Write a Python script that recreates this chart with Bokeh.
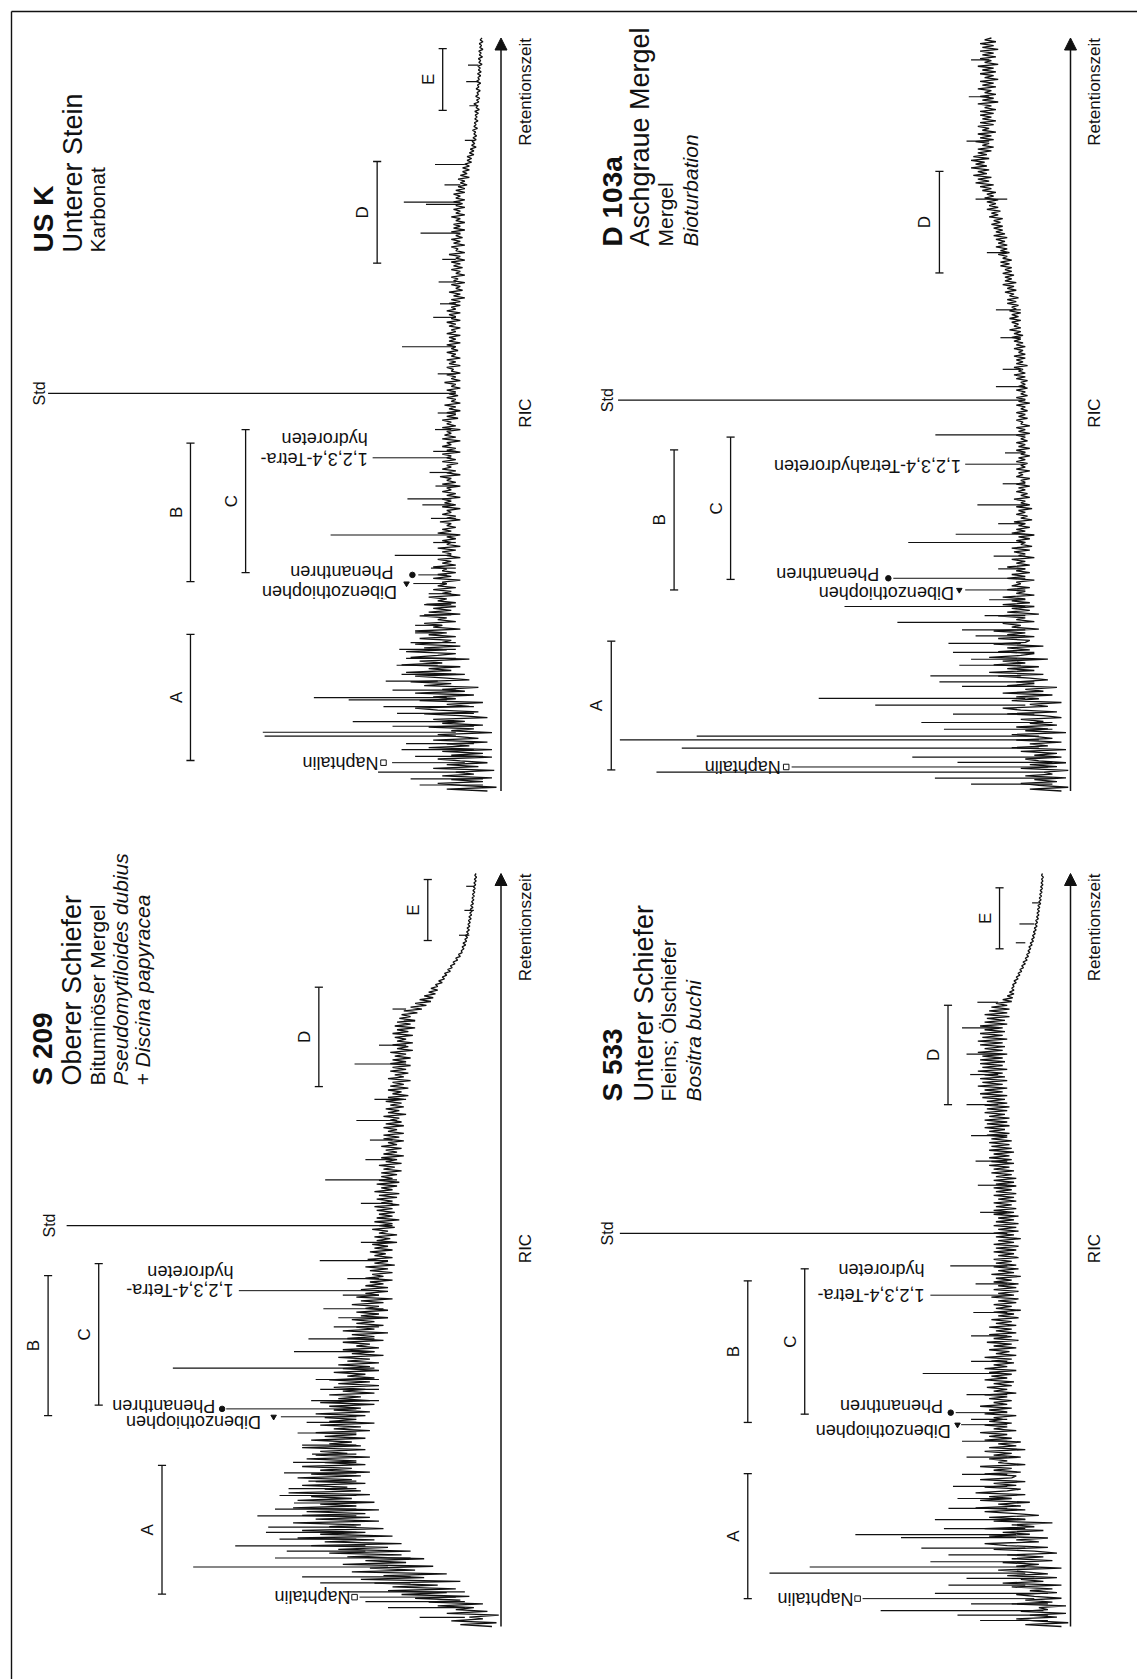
import numpy as np
from bokeh.plotting import figure
from bokeh.models import Range1d, Arrow, NormalHead
from bokeh.core.properties import value
from bokeh.embed import file_html
from bokeh.resources import INLINE

# ---------------- data (retention time 0..100, intensity in units where Std ~ 100) ----------------
T_STEP = 0.25   # one sample every 0.25 time units, 401 samples per chromatogram

USK_TITLE = ["US K", "Unterer Stein", "Karbonat"]
USK_TRACE = [
    3, 12, 1, 9, 14, 4, 11, 2, 13, 6, 10, 1.5, 15, 5, 12, 3, 9, 14, 2, 11,
    4, 13, 2, 16, 7, 12, 3, 15, 5, 10, 14, 2, 11, 6, 16, 4, 13, 8, 15, 3,
    9, 17, 5, 14, 19, 7, 12, 4, 18, 10, 15, 6, 19, 8, 13, 5, 17, 11, 20, 7,
    12, 19, 8, 21, 11, 16, 9, 22, 13, 18, 7, 20, 14, 10, 21, 12, 17, 9, 19, 13,
    11, 18, 10, 16, 12, 19, 9, 15, 13, 17, 10, 14, 12, 18, 9, 16, 11, 15, 10, 17,
    10, 14, 12, 16, 9, 13, 11, 15, 10, 14, 12, 13, 9, 15, 11, 14, 10, 13, 12, 15,
    10, 13, 11, 14, 9, 12, 11, 13, 10, 14, 9, 12, 11, 13, 10, 12, 9, 14, 11, 13,
    10, 12, 11, 13.5, 9, 12, 10, 13, 11, 12, 9, 13, 10, 12.5, 11, 13, 9, 12, 10, 13,
    11, 12, 9, 13, 10, 12, 11, 13.5, 9, 12, 10, 13, 11, 12, 9.5, 13, 10, 12, 11, 13,
    9, 12, 10, 13, 11, 12, 9, 13, 10, 12.5, 11, 12, 9, 13, 10, 12, 11, 13, 9.5, 12,
    10, 12, 9, 11.5, 10, 12.5, 9, 11, 10, 12, 9.5, 11.5, 10, 12, 9, 11, 10, 12.5, 9, 11,
    10, 12, 9, 11, 10.5, 12, 9, 11.5, 10, 12, 9, 11, 10, 12, 9.5, 11, 10, 12, 9, 11.5,
    10, 11.5, 9, 12, 10, 11, 9, 11.5, 10, 12, 9, 11, 10, 11.5, 9, 12, 10, 11, 9, 11.5,
    9, 11, 8, 10.5, 9, 11.5, 8.5, 10, 9, 11, 8, 10.5, 9.5, 11, 8, 10, 9, 11, 8.5, 10.5,
    9, 11, 8, 10, 9, 11.5, 8, 10, 9.5, 11, 8, 10.5, 9, 11, 8.5, 10, 9, 11, 8, 10.5,
    9, 10.5, 8, 10, 9, 11, 8, 10, 9, 10.5, 8, 10, 8.5, 10.5, 8, 10, 9, 10.5, 8, 10,
    8, 9.5, 7.5, 9, 8, 9.5, 7, 9, 7.5, 8.5, 7, 8.5, 7, 8, 6.5, 7.5, 6.5, 7.5, 6, 7,
    6, 6.8, 5.5, 6.5, 5.8, 6.4, 5.5, 6.2, 5.4, 6, 5.6, 6.3, 5.2, 6, 5.5, 5.9, 5.1, 5.8, 5.3, 5.7,
    5, 5.8, 4.8, 5.5, 5.2, 6, 4.9, 5.4, 4.7, 5.6, 5, 5.3, 4.6, 5.5, 4.9, 5.2, 4.5, 5.4, 4.8, 5.1,
    4.5, 5.2, 4.4, 5, 4.6, 5.1, 4.2, 4.9, 4.5, 5, 4.1, 4.8, 4.4, 4.9, 4, 4.7, 4.3, 4.8, 4, 4.6,
    4.2]
USK_SPIKE_T = [2.5, 7.3, 7.8, 9.2, 12.1, 12.4, 14.6, 16.7, 21.0, 22.0, 31.3, 34.0, 38.0,
               38.8, 42.3, 48.0, 52.8, 59.0, 62.9, 67.6, 74.1, 77.9, 78.2, 83.2, 94.2, 96.4,
               0.8, 1.6, 4.6, 5.5, 6.3, 8.6, 10.3, 11.2, 13.4, 15.5, 17.6, 18.8, 19.7, 23.4,
               24.8, 26.2, 29.6, 33.0, 36.2, 40.5, 45.1, 50.2, 55.4, 64.7, 70.6, 80.5, 86.4, 91.0]
USK_SPIKE_TOP = [27.2, 52.3, 52.7, 32.8, 33.7, 41.4, 25.5, 23.1, 19.0, 19.0, 23.5, 37.7, 17.4,
                 20.7, 15.8, 14.6, 100.2, 21.9, 15.0, 13.8, 17.8, 16.6, 21.5, 14.6, 7.7, 7.3,
                 18, 20, 19, 22, 21, 24, 23, 26, 24, 22, 21, 22.5, 20, 17,
                 16.5, 16, 15.5, 15, 15.5, 14.5, 15, 14, 14, 13.5, 13, 12.5, 8, 7]
USK_SPIKE_BASE = [8, 10, 10, 10, 12, 12, 14, 14, 13, 13, 11, 11, 11,
                  11, 11, 11, 10, 10, 10, 10, 9, 9, 9, 8, 5, 5,
                  4, 4, 4, 6, 6, 6, 6, 6, 10, 10, 10, 10, 10, 11,
                  11, 11, 10, 10, 10, 10, 10, 10, 10, 10, 10, 9, 6, 5]
USK_STD_T = 52.8
USK_BR_NAMES = ["A", "B", "C", "D", "E"]
USK_BR_T0 = [4.05, 27.8, 29.0, 70.1, 90.4]
USK_BR_T1 = [20.8, 46.2, 48.0, 83.6, 98.6]
USK_PEAKS = ["Naphtalin", "Dibenzothiophen", "Phenanthren", "1,2,3,4-Tetra-", "hydroreten"]
USK_PEAK_T = [3.76, 27.55, 28.7, 44.25, None]

D103_TITLE = ["D 103a", "Aschgraue Mergel", "Mergel", "Bioturbation"]
D103_TRACE = [
    2, 9, 0.5, 7, 11, 3, 8, 1, 10, 4, 6, 0.5, 11, 3, 9, 1, 7, 10, 2, 8,
    3, 11, 1, 13, 5, 9, 2, 12, 4, 8, 13, 1, 10, 5, 12, 3, 9, 6, 11, 2,
    6, 14, 3, 11, 15, 5, 9, 2, 13, 7, 12, 4, 15, 6, 10, 3, 14, 8, 12, 5,
    9, 16, 6, 18, 8, 14, 7, 17, 10, 15, 5, 18, 11, 8, 16, 9, 14, 6, 17, 10,
    9, 16, 8, 14, 10, 17, 7, 13, 11, 15, 8, 12, 10, 16, 7, 14, 9, 13, 8, 15,
    9, 13, 10, 15, 8, 12, 10, 14, 9, 13, 11, 12, 8, 14, 10, 13, 9, 12, 10, 14,
    9, 12, 10, 13, 8, 11.5, 10, 12.5, 9, 13, 8.5, 11, 10, 12, 9, 11.5, 8, 13, 10, 12,
    9, 11.5, 10, 12.5, 8.5, 11, 9.5, 12, 10, 11.5, 8.5, 12, 9, 11, 10, 12.5, 9, 11, 9.5, 12,
    10, 11.5, 9, 12, 10, 11, 9, 12, 10.5, 11.5, 9, 12, 10, 11, 9.5, 12, 10, 11.5, 9, 11,
    10, 12, 9, 11.5, 10, 12, 9.5, 11, 10, 12, 9, 11.5, 10, 12, 9, 11, 10.5, 12, 9.5, 11.5,
    10, 12, 9.5, 11, 10, 12, 9, 11.5, 10, 12, 9.5, 11, 10, 12, 9.5, 11.5, 10, 11, 9.5, 12,
    10, 12.5, 10, 11.5, 10.5, 12.5, 9.5, 12, 10.5, 12, 10, 12.5, 10, 11.5, 10.5, 12.5, 10, 12, 10.5, 12.5,
    11, 13, 10.5, 12.5, 11, 13.5, 11, 12.5, 11.5, 13, 11, 13.5, 11.5, 13, 11, 13.5, 12, 13, 11.5, 14,
    12, 14, 11.5, 13.5, 12.5, 14.5, 12, 14, 12.5, 15, 12, 14.5, 13, 14.5, 12.5, 15, 13, 14.5, 13, 15.5,
    13.5, 15.5, 13, 15, 14, 16, 13.5, 15.5, 14, 16.5, 14, 16, 14.5, 16.5, 14, 17, 14.5, 16.5, 15, 17,
    15, 17.5, 15.5, 17, 15, 18, 16, 17.5, 15.5, 18.5, 16, 18, 16.5, 18.5, 16, 19, 17, 18.5, 16.5, 19.5,
    17.5, 20, 17, 21, 18, 20.5, 17.5, 21.5, 18.5, 20.5, 18, 22, 18.5, 21, 19, 22, 18, 21.5, 18.5, 20.5,
    17.5, 20.5, 17, 19.5, 18, 21, 17, 20, 17.5, 20.5, 16.5, 19.5, 18, 20.5, 17, 20, 16.5, 19.5, 17.5, 20,
    17, 20, 16.5, 19, 17.5, 20.5, 16, 19.5, 17, 20, 16.5, 19, 17.5, 20.5, 16.5, 19.5, 17, 20, 16, 19,
    17, 20, 16.5, 19.5, 17, 20.5, 16, 19, 17.5, 20, 16.5, 19.5, 17, 20, 16, 19.5, 17, 20, 16.5, 19,
    17.5]
D103_SPIKE_T = [2.5, 5.7, 6.8, 7.3, 11.4, 12.3, 15.3, 16.7, 19.6, 22.4, 24.5, 33.0, 34.1,
                38.0, 47.3, 51.9, 53.7,
                0.9, 1.7, 3.8, 4.5, 8.2, 9.1, 10.2, 13.9, 14.5, 17.5, 18.4, 20.6, 21.4, 23.3,
                25.4, 29.5, 31.2, 35.5, 40.8, 44.9, 56.0, 60.2, 63.9, 71.5, 78.6, 86.3, 92.2, 97.1]
D103_SPIKE_TOP = [91.6, 86.0, 99.7, 82.7, 43.2, 55.7, 31.0, 24.6, 27.0, 38.3, 50.0, 35.9, 25.4,
                  20.6, 29.9, 100.1, 16.5,
                  22, 30, 25, 35, 28, 33, 26, 24, 29, 22, 26, 21, 24, 19,
                  18, 16, 17, 16, 15, 14.5, 15, 15.5, 16.5, 18.5, 21, 23, 22.5, 22]
D103_SPIKE_BASE = [6, 7, 7, 7, 10, 10, 11, 11, 11, 11, 10, 10, 10, 10, 10, 10, 10,
                   4, 4, 4, 4, 4, 4, 8, 8, 8, 8, 8, 10, 10, 10,
                   10, 10, 10, 10, 10, 10, 11, 11, 11, 14, 14, 18, 18, 18]
D103_STD_T = 51.9
D103_BR_NAMES = ["A", "B", "C", "D"]
D103_BR_T0 = [2.8, 26.7, 28.1, 68.8]
D103_BR_T1 = [19.9, 45.3, 47.0, 82.3]
D103_PEAKS = ["Naphtalin", "Dibenzothiophen", "Phenanthren", "1,2,3,4-Tetrahydroreten"]
D103_PEAK_T = [3.19, 26.7, 28.25, 43.4]

S209_TITLE = ["S 209", "Oberer Schiefer", "Bituminöser Mergel", "Pseudomytiloides dubius",
              "+ Discina papyracea"]
S209_TRACE = [
    2, 9, 1, 11, 4, 7, 0.5, 12, 3, 10, 6, 14, 4, 16, 9, 19, 7, 22, 12, 25,
    10, 24, 14, 28, 9, 31, 17, 26, 12, 33, 19, 29, 15, 35, 21, 30, 17, 34, 22, 38,
    20, 36, 25, 42, 22, 39, 28, 45, 24, 40, 30, 44, 26, 38, 31, 46, 27, 41, 29, 44,
    30, 43, 27, 46, 32, 40, 28, 45, 33, 42, 29, 47, 31, 39, 34, 44, 30, 41, 33, 45,
    31, 42, 29, 40, 33, 44, 30, 39, 32, 43, 29, 41, 34, 40, 30, 44, 31, 38, 33, 42,
    30, 39, 32, 41, 29, 37, 31, 40, 28, 38, 32, 39, 30, 41, 29, 37, 31, 38, 28, 40,
    29, 36, 31, 38, 28, 35, 30, 37, 27, 36, 29, 38, 28, 34, 30, 37, 27, 35, 29, 36,
    27, 34, 29, 36, 26, 33, 28, 35, 27, 32, 29, 35, 26, 34, 28, 33, 25, 35, 28, 32,
    26, 32, 28, 33, 25, 31, 27, 32, 25, 30, 27, 33, 26, 31, 24, 32, 27, 30, 25, 31,
    25, 30, 26, 29, 24, 30, 26, 28.5, 24, 29, 25, 30, 23.5, 28, 25, 29.5, 24, 28, 25.5, 29,
    24, 28, 25, 28.5, 23, 27.5, 24.5, 28, 23, 27, 25, 28.5, 23.5, 27, 24, 28, 22.5, 27.5, 24, 27,
    23.5, 27.5, 24, 28, 22.5, 26.5, 24, 27.5, 23, 27, 22.5, 28, 24, 26.5, 23, 27.5, 22.5, 27, 24, 26.5,
    23, 26.5, 22, 26, 23.5, 27, 22, 25.5, 23, 26.5, 21.5, 26, 23, 25.5, 22, 26.5, 23, 25, 21.5, 26,
    22.5, 26, 21.5, 25, 23, 26, 21.5, 25.5, 22, 24.5, 22.5, 26, 21, 25, 22.5, 25.5, 21.5, 24.5, 22, 25.5,
    21.5, 25, 20.5, 24, 22, 25, 20.5, 24.5, 21.5, 24, 20, 25, 21.5, 23.5, 20.5, 24.5, 21, 24, 20, 24.5,
    21, 24, 20, 23.5, 21, 24.5, 19.5, 23, 20.5, 24, 19.5, 23, 21, 23.5, 19.5, 24, 20.5, 23, 19, 23.5,
    20, 23, 19, 22.5, 20, 22, 18.5, 21.5, 17.5, 20, 16.5, 19, 15.5, 18, 15, 17, 14.5, 16, 14, 15.5,
    14, 14.5, 13, 13.8, 12.5, 13, 12, 12.5, 11.2, 11.8, 10.8, 11.2, 10.2, 10.6, 9.6, 10, 9, 9.4, 8.6, 8.8,
    8.2, 8.6, 7.8, 8.4, 7.6, 8, 7.4, 7.9, 7.2, 7.6, 7, 7.5, 6.9, 7.3, 6.8, 7.2, 6.6, 7.1, 6.5, 6.9,
    6.4, 6.8, 6.2, 6.7, 6.1, 6.5, 6, 6.4, 5.9, 6.3, 5.8, 6.2, 5.7, 6.1, 5.6, 6, 5.5, 5.9, 5.4, 5.8,
    5.5]
S209_SPIKE_T = [7.9, 10.0, 10.7, 13.2, 14.7, 16.4, 19.3, 22.9, 34.3, 36.5, 38.2, 42.2, 48.6,
                53.25, 59.3, 67.2, 74.7, 80.4, 91.8, 95.1, 98.3,
                1.2, 2.5, 3.3, 4.6, 5.8, 6.6, 9.1, 11.6, 12.5, 15.6, 17.4, 18.3, 20.4, 21.8,
                24.1, 25.7, 27.1, 30.0, 31.5, 32.8, 39.8, 41.0, 44.0, 46.2, 51.0, 56.2, 62.0,
                64.6, 70.0, 77.2, 82.0]
S209_SPIKE_TOP = [68.1, 47.4, 58.8, 51.5, 53.9, 45.8, 42.6, 41.8, 72.6, 45.8, 42.6, 39.3, 40.1,
                  96.1, 38.9, 32.0, 32.4, 21.5, 9.3, 8.1, 7.7,
                  18, 25, 30, 35, 40, 44, 50, 49, 52, 50, 49, 47, 48, 46,
                  44, 45, 43, 42, 40, 41, 37, 36, 35, 34, 31, 31, 30,
                  29, 28, 27, 24]
S209_SPIKE_BASE = [25, 30, 30, 32, 32, 32, 32, 32, 28, 28, 28, 26, 25,
                   24, 23, 23, 21, 19, 7, 6, 6,
                   8, 8, 8, 8, 20, 20, 20, 32, 32, 32, 32, 32, 32, 32,
                   32, 32, 32, 27, 27, 27, 27, 27, 27, 27, 24, 24, 24,
                   24, 21, 21, 21]
S209_STD_T = 53.25
S209_BR_NAMES = ["A", "B", "C", "D", "E"]
S209_BR_T0 = [4.3, 28.0, 29.4, 71.7, 91.1]
S209_BR_T1 = [21.4, 46.6, 48.2, 84.9, 99.2]
S209_PEAKS = ["Naphtalin", "Dibenzothiophen", "Phenanthren", "1,2,3,4-Tetra-", "hydroreten"]
S209_PEAK_T = [3.9, 27.85, 28.9, 44.6, None]

S533_TITLE = ["S 533", "Unterer Schiefer", "Fleins; Ölschiefer", "Bositra buchi"]
S533_TRACE = [
    2, 10, 0.5, 8, 12, 3, 9, 1, 11, 5, 7, 1, 13, 4, 10, 2, 8, 12, 3, 9,
    4, 13, 2, 15, 6, 11, 3, 14, 5, 10, 16, 2, 12, 7, 15, 4, 13, 6, 14, 3,
    8, 17, 5, 14, 19, 7, 12, 5, 18, 9, 15, 6, 19, 8, 13, 4, 17, 10, 18, 7,
    12, 19, 10, 21, 11, 16, 9, 20, 13, 18, 10, 21, 14, 11, 19, 12, 17, 10, 20, 13,
    12, 19, 11, 17, 13, 20, 10, 16, 14, 18, 11, 17, 13, 19, 10, 18, 12, 16, 11, 19,
    13, 18, 14, 20, 12, 17, 14, 19, 13, 18, 15, 17, 12, 19, 14, 18, 13, 20, 14, 17,
    13, 18, 14, 19, 12, 17, 14, 18.5, 13, 17, 12.5, 19, 14, 17.5, 13, 18, 12, 19, 14, 17,
    12.5, 17.5, 13, 19, 12, 16.5, 13.5, 18, 12, 17, 13, 18.5, 11.5, 17, 13, 18, 12, 16.5, 13, 18,
    12, 16.5, 13, 17.5, 11.5, 16, 12.5, 17, 11, 16.5, 13, 17, 12, 16, 11.5, 17.5, 12.5, 16, 11.5, 17,
    12, 16, 11.5, 17, 13, 16.5, 11, 17.5, 12.5, 16, 11.5, 17, 12, 16.5, 13, 17, 11.5, 16, 12.5, 17,
    12, 16.5, 11.5, 17, 12.5, 16, 11, 16.5, 12.5, 17, 11.5, 16, 12, 17, 11.5, 16.5, 12.5, 16, 11.5, 17,
    12.5, 17, 12, 16.5, 13, 17, 12, 16, 12.5, 17, 12, 16.5, 13, 17, 12, 16.5, 12.5, 17, 12, 16.5,
    13, 17.5, 12.5, 17, 13.5, 18, 12.5, 17.5, 13, 18, 13.5, 17, 12.5, 18, 13, 17.5, 13.5, 18, 13, 17.5,
    14, 18.5, 13.5, 18, 14.5, 19, 13.5, 18.5, 14, 19, 13.5, 18, 14.5, 19, 14, 18.5, 13.5, 19, 14, 18.5,
    14.5, 19.5, 14, 20, 15, 19, 14, 20.5, 15, 19.5, 14, 20, 14.5, 19, 15, 20.5, 14, 19.5, 15, 20,
    14.5, 20, 15, 19.5, 14, 20.5, 15, 19, 14.5, 20, 15, 20.5, 14, 19.5, 15, 20, 14.5, 19, 15, 20,
    14, 19, 14.5, 18.5, 13.5, 19, 14, 18, 13.5, 17.5, 14, 16.5, 13, 15, 12.8, 14, 12.5, 13.5, 12.5, 13,
    12.5, 12.8, 12, 12.5, 11.6, 12, 11.2, 11.6, 10.8, 11.2, 10.4, 10.8, 10, 10.5, 9.6, 10, 9.3, 9.7, 9, 9.4,
    8.8, 9.2, 8.5, 8.9, 8.2, 8.6, 8, 8.4, 7.8, 8.2, 7.6, 8, 7.4, 7.8, 7.3, 7.7, 7.1, 7.5, 7, 7.4,
    6.9, 7.3, 6.8, 7.2, 6.6, 7, 6.5, 6.9, 6.4, 6.8, 6.3, 6.7, 6.2, 6.6, 6.1, 6.5, 6.1, 6.4, 6, 6.4,
    6.2]
S533_SPIKE_T = [2.1, 6.4, 7.1, 7.9, 11.8, 12.2, 15.7, 33.6, 47.9, 52.2, 69.3, 73.3, 82.9,
                90.8, 93.3, 96.1,
                0.8, 1.5, 3.0, 4.4, 5.5, 8.6, 9.5, 10.4, 13.0, 14.2, 17.0, 18.6, 20.2, 22.5,
                24.6, 27.5, 30.8, 35.2, 38.6, 41.7, 45.5, 55.0, 58.6, 61.8, 65.2, 76.0, 79.5]
S533_SPIKE_TOP = [42.0, 23.0, 66.6, 57.7, 37.5, 47.6, 27.0, 32.7, 26.6, 99.7, 23.0, 22.2, 20.6,
                  12.1, 11.3, 8.5,
                  20, 25, 22, 30, 27, 31, 27, 33, 28, 30, 25, 26, 24, 23,
                  24, 22, 23, 22, 22, 21.5, 21, 20, 20.5, 21, 22, 23, 24]
S533_SPIKE_BASE = [6, 8, 10, 10, 12, 12, 14, 15, 14, 14, 16, 16, 16, 10, 8, 7,
                   5, 5, 5, 5, 10, 10, 10, 10, 10, 10, 14, 14, 14, 14,
                   14, 14, 14, 14, 14, 14, 14, 14, 14, 14, 14, 16, 16]
S533_STD_T = 52.2
S533_BR_NAMES = ["A", "B", "C", "D", "E"]
S533_BR_T0 = [3.7, 27.1, 28.2, 69.3, 90.0]
S533_BR_T1 = [20.3, 45.9, 47.5, 82.5, 98.1]
S533_PEAKS = ["Naphtalin", "Dibenzothiophen", "Phenanthren", "1,2,3,4-Tetra-", "hydroreten"]
S533_PEAK_T = [3.7, 26.8, 28.4, 44.0, None]

AXIS_TEXT = "Retentionszeit"
SIGNAL_TEXT = "RIC"
STD_TEXT = "Std"

# ---------------- layout ----------------
W, H = 1137, 1679
SX, SY = 4.52, 7.53          # px per intensity unit, px per time unit
FONT = "Liberation Sans"
INK = "#111111"

PANELS = [
    dict(key="usk", ax=500.5, top=37.5, trace=USK_TRACE,
         spikes=(USK_SPIKE_T, USK_SPIKE_BASE, USK_SPIKE_TOP), std_t=USK_STD_T, std_I=102.1,
         br=(USK_BR_NAMES, USK_BR_T0, USK_BR_T1), br_I=[68.7, 68.7, 56.5, 27.4, 12.9],
         title=USK_TITLE, title_x=[43, 72, 97], title_y=252,
         peaks=USK_PEAKS, peak_t=USK_PEAK_T,
         # text_t, text_I, leader_I0, leader_I1, marker, marker_I
         plab=[(3.7, 27.1, 8, 24.1, "square", 26.0),
               (26.4, 23.0, 12, 19.4, "triangle", 20.9),
               (29.1, 23.8, 12, 18.3, "circle", 19.6),
               (44.1, 29.5, 11, 28.4, None, None),
               (46.8, 29.5, None, None, None, None)]),
    dict(key="d103", ax=1070, top=37.5, trace=D103_TRACE,
         spikes=(D103_SPIKE_T, D103_SPIKE_BASE, D103_SPIKE_TOP), std_t=D103_STD_T, std_I=102.4,
         br=(D103_BR_NAMES, D103_BR_T0, D103_BR_T1), br_I=[101.6, 87.7, 75.2, 29.0],
         title=D103_TITLE, title_x=[612, 639, 665, 690], title_y=246,
         peaks=D103_PEAKS, peak_t=D103_PEAK_T,
         plab=[(3.2, 64.1, 5, 61.7, "square", 62.9),
               (26.3, 25.8, 10, 23.3, "triangle", 24.6),
               (28.8, 42.3, 10, 39.2, "circle", 40.3),
               (43.2, 24.2, 10, 23.3, None, None)]),
    dict(key="s209", ax=500.5, top=873, trace=S209_TRACE,
         spikes=(S209_SPIKE_T, S209_SPIKE_BASE, S209_SPIKE_TOP), std_t=S209_STD_T, std_I=100.0,
         br=(S209_BR_NAMES, S209_BR_T0, S209_BR_T1), br_I=[75.0, 100.2, 89.0, 40.3, 16.2],
         title=S209_TITLE, title_x=[42, 71.5, 97, 119.5, 141.5], title_y=1085,
         peaks=S209_PEAKS, peak_t=S209_PEAK_T,
         plab=[(3.9, 33.3, 10, 31.3, "square", 32.4),
               (27.1, 53.1, 32, 48.7, "triangle", 50.3),
               (29.3, 63.2, 32, 60.8, "circle", 61.7),
               (44.65, 59.2, 27, 58.0, None, None),
               (47.1, 59.2, None, None, None, None)]),
    dict(key="s533", ax=1070, top=873, trace=S533_TRACE,
         spikes=(S533_SPIKE_T, S533_SPIKE_BASE, S533_SPIKE_TOP), std_t=S533_STD_T, std_I=102.4,
         br=(S533_BR_NAMES, S533_BR_T0, S533_BR_T1), br_I=[71.4, 71.4, 58.8, 27.1, 15.7],
         title=S533_TITLE, title_x=[612, 643, 668, 693], title_y=1101,
         peaks=S533_PEAKS, peak_t=S533_PEAK_T,
         plab=[(3.7, 48.0, 8, 46.0, "square", 47.1),
               (25.9, 26.5, 14, 24.2, "triangle", 25.0),
               (29.3, 28.2, 14, 25.4, "circle", 26.5),
               (44.0, 32.3, 13, 31.0, None, None),
               (47.3, 32.3, None, None, None, None)]),
]

p = figure(width=W, height=H, x_range=Range1d(0, W), y_range=Range1d(H, 0),
           output_backend="svg", toolbar_location=None, min_border=0,
           x_axis_location=None, y_axis_location=None)
p.xgrid.visible = False
p.ygrid.visible = False
p.outline_line_color = None
p.background_fill_color = "white"
p.border_fill_color = "white"

# page frame (top and left rule)
p.line([11, 11], [H, 11], line_color=INK, line_width=1.4)
p.line([11, W], [11, 11], line_color=INK, line_width=1.4)

xr, yr = {}, {}
for P in PANELS:
    bot = P["top"] + 100 * SY
    xr[P["key"]] = Range1d(P["ax"] / SX, (P["ax"] - W) / SX)
    yr[P["key"]] = Range1d((bot - H) / SY, bot / SY)
p.extra_x_ranges = xr
p.extra_y_ranges = yr

TITLE_SIZES = ["28px", "27px", "21px", "21px", "21px"]
TITLE_STYLES = {"US K": "bold", "D 103a": "bold", "S 209": "bold", "S 533": "bold",
                "Bioturbation": "italic", "Pseudomytiloides dubius": "italic",
                "+ Discina papyracea": "italic", "Bositra buchi": "italic"}

for P in PANELS:
    k = P["key"]
    kw = dict(x_range_name=k, y_range_name=k)
    ax, top = P["ax"], P["top"]
    bot = top + 100 * SY

    # retention-time axis with arrow
    p.add_layout(Arrow(end=NormalHead(size=12, fill_color=INK, line_color=INK, line_width=1),
                       x_start=ax, y_start=bot, x_end=ax, y_end=top,
                       line_color=INK, line_width=1.5))
    p.text(x=[ax + 24], y=[top], text=[AXIS_TEXT], angle=np.pi / 2,
           text_align="right", text_baseline="middle", text_font=value(FONT),
           text_font_size="17px", text_color=INK)
    p.text(x=[ax + 24], y=[top + 375], text=[SIGNAL_TEXT], angle=np.pi / 2,
           text_align="center", text_baseline="middle", text_font=value(FONT),
           text_font_size="17px", text_color=INK)

    # titles
    for i, line in enumerate(P["title"]):
        p.text(x=[P["title_x"][i]], y=[P["title_y"]], text=[line], angle=np.pi / 2,
               text_align="left", text_baseline="alphabetic", text_font=value(FONT),
               text_font_size=TITLE_SIZES[i], text_font_style=TITLE_STYLES.get(line, "normal"),
               text_color=INK)

    # chromatogram trace
    tt = [i * T_STEP for i in range(len(P["trace"]))]
    p.line(P["trace"], tt, line_color=INK, line_width=1.3, **kw)
    st, sb, sh = P["spikes"]
    p.segment(x0=sb, y0=st, x1=sh, y1=st, line_color=INK, line_width=1.2, **kw)
    p.text(x=[P["std_I"]], y=[P["std_t"]], text=[STD_TEXT], angle=np.pi / 2,
           text_align="center", text_baseline="middle", text_font=value(FONT),
           text_font_size="16px", text_color=INK, **kw)

    # fraction brackets A..E
    names, t0, t1 = P["br"]
    bI = P["br_I"]
    p.segment(x0=bI, y0=t0, x1=bI, y1=t1, line_color=INK, line_width=1.3, **kw)
    p.segment(x0=[v - 0.9 for v in bI] * 2, y0=list(t0) + list(t1),
              x1=[v + 0.9 for v in bI] * 2, y1=list(t0) + list(t1),
              line_color=INK, line_width=1.3, **kw)
    p.text(x=[v + 3.2 for v in bI], y=[(a + b) / 2 for a, b in zip(t0, t1)], text=names,
           angle=np.pi / 2, text_align="center", text_baseline="middle",
           text_font=value(FONT), text_font_size="17px", text_color=INK, **kw)

    # peak labels
    for name, pt, lab in zip(P["peaks"], P["peak_t"], P["plab"]):
        text_t, text_I, l0, l1, mk, mI = lab
        p.text(x=[text_I], y=[text_t], text=[name], angle=np.pi,
               text_align="left", text_baseline="middle", text_font=value(FONT),
               text_font_size="18px", text_color=INK, **kw)
        if pt is not None and l0 is not None:
            p.segment(x0=[l0], y0=[pt], x1=[l1], y1=[pt], line_color=INK, line_width=1.0, **kw)
        if mk is not None:
            p.scatter(x=[mI], y=[pt], marker=mk, size=5.5,
                      fill_color="white" if mk == "square" else INK,
                      line_color=INK, line_width=1.0,
                      angle=np.pi if mk == "triangle" else 0.0, **kw)

open("out.html", "w").write(file_html(p, INLINE))
